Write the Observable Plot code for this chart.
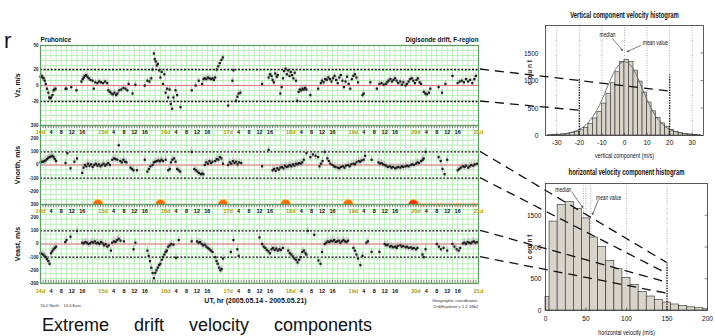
<!DOCTYPE html>
<html><head><meta charset="utf-8">
<script src="https://cdn.jsdelivr.net/npm/d3@7"></script>
<script src="https://cdn.jsdelivr.net/npm/@observablehq/plot@0.6"></script>
<style>
body{margin:0;background:#fff;}
#root{position:relative;width:715px;height:336px;overflow:hidden;font-family:"Liberation Sans",Arial,sans-serif;background:#fff;}
.cap{position:absolute;left:42px;top:316px;font-size:18px;word-spacing:20px;white-space:nowrap;color:#111;line-height:1;}
.rr{position:absolute;left:4px;top:30px;font-size:22px;color:#111;line-height:1;}
</style></head><body><div id="root"><div class="rr">r</div><div class="cap">Extreme drift velocity components</div></div>
<script>
// ---------- data ----------
const dayLabels = ["14d","15d","16d","17d","18d","19d","20d","21d"];
const hourLabels = ["4","8","12","16"];
const vzTicks = [50, 20, 0, -20];
const vnTicks = [300, 200, 100, 0, -100, -200];
const veTicks = [300, 200, 100, 0, -100, -200, -300];
const vzLimits = [-20, 20];
const vnLimits = [-100, 100];
const veLimits = [-100, 100];
const sunHours = [22, 46, 70, 94, 118, 143];
const nightBand = [143, 168];

const vzData = [[0,11],[0.4,12],[0.8,10],[1.2,9],[1.6,6],[2,2],[2.5,-4],[3,-9],[3.3,-15],[3.7,-16],[4.1,-15],[4.6,-12],[5,-6],[5.4,-5],[5.8,-4],
[9.6,-4],[10,-4],[11.8,-2],[13.8,-6],[15.7,5],[16.2,8],[16.6,10],[17,12],[17.5,13],[18,11],[18.5,9],[19.2,7],[20,6],[20.4,-4],[21,4],[21.8,3],[22.5,5],[23.2,4],[24,3],[24.8,5],[25.6,3],[26,-6],[26.6,-8],[27.2,-10],[27.8,-11],[28.4,-9],[29,-12],[29.5,-10],[30.2,-6],[31,-5],[31.8,-3],[32.6,-4],[33.3,-6],[33.8,2],[35.3,-10],[36.4,1],
[40,0],[41,6],[41.8,5],[42.5,9],[43,20],[43.5,40],[43.8,33],[44.2,30],[44.6,25],[45,27],[45.5,19],[46,10],[46.5,17],[47,2],[47.5,14],[48,-9],[48.6,-4],[49,-15],[49.5,-5],[50,-23],[50.5,-29],[51,-15],[51.8,-6],[52.4,-12],[53.7,-27],
[58,-6],[59.5,0],[60.7,6],[62,2],[62.5,8],[63,9],[63.6,8],[64.2,10],[64.8,9],[65.4,8],[66,9],[66.5,7],[67,10],[67.6,20],[68.2,24],[68.8,28],[69.4,32],[70,35],[72,-25],[73.6,6],[74,19],[75,-19],[75.5,-14],[76,-10],[76.7,-9],
[85,2],[87.5,10],[88,14],[88.6,12],[89,7],[89.5,4],[90,15],[90.6,11],[91,13],[92,-10],[92.5,-2],[93,9],[93.4,18],[94,21],[94.5,14],[95,19],[95.5,12],[96,17],[96.5,13],[97,9],[97.5,16],[98,6],[98.5,-19],[99,-8],[99.5,-5],[100,-6],[100.5,-4],[101,-5],[101.5,-3],[102,-5],[103.5,-12],[106.5,-4],[107.5,3],[108,6],[108.6,4],[109.2,8],[109.8,7],[110.4,10],[111,8],[111.6,5],[112.2,9],[112.8,12],[113.4,7],[114,3],[114.6,10],[115.2,13],[115.8,6],[116.4,-2],[117,5],[117.6,11],[118.2,2],[118.8,-4],[119.4,8],[120,12],[120.6,14],[121.2,10],[121.8,4],[123.5,-12],[124,-10],[126.5,4],[129,-4],[130,2],[130.8,3],[131.6,1],[132.4,2],[133,4],[133.5,6],[134.2,8],[134.8,5],[135.4,7],[136,9],[136.6,6],[137.2,3],[138,5],[138.6,1],[139.2,4],[140,0],[140.6,2],[141.2,5],[141.8,8],[142.4,9],[143,6],[143.6,3],[144.2,7],[144.8,9],[145.4,4],[146,2],[147,-8],[147.6,-10],[148.2,-11],[149,-9],[149.5,-4],[152.7,-2],[154,-9],[155.3,2],[158,12],[160,3],[160.8,5],[161.6,6],[162.4,4],[163.2,8],[164,5],[164.8,7],[165.6,3],[166.4,8],[167,12]];

const vnData = [[0,20],[0.5,24],[1,25],[1.5,30],[2,35],[2.5,45],[3,55],[3.5,60],[4,65],[4.5,70],[5,60],[5.5,45],[6,30],
[9.6,15],[10.3,90],[11.5,-25],[13,25],[14,50],[16,-60],[16.5,-20],[17,0],[17.6,-10],[18.2,10],[18.8,-5],[19.4,5],[20,-15],[20.6,0],[21.2,10],[21.8,-5],[22.4,5],[23,-10],[23.6,0],[24.2,10],[24.8,-5],[25.4,5],[26,15],[26.6,0],[27.5,40],[28.2,50],[28.8,45],[29.5,40],[30,150],[30.6,30],[31.2,20],[31.8,40],[32.4,25],[33,20],[34.5,-20],[35.1,-30],[35.7,-40],[37,-40],
[40,40],[41,-50],[41.6,-30],[42.2,-10],[43,0],[43.5,20],[44,25],[44.6,30],[45.2,35],[45.8,28],[46.4,40],[47,30],[48,40],[49,-40],[49.6,-30],[50,20],[50.6,40],[51.2,50],[51.8,25],[52.4,-30],[53,-40],[53.6,-50],
[58,100],[59,-30],[59.6,-40],[60.2,-50],[60.8,-60],[61.5,-70],[62,-65],[62.5,-70],[63,0],[63.6,20],[64.2,10],[64.8,30],[65.4,15],[66,25],[67,30],[67.6,45],[68.2,40],[68.8,60],[69.4,50],[70,10],[72,0],[72.6,20],[73.2,10],[73.8,30],[74.4,15],[75,25],[75.6,5],[76.2,20],[77,15],
[85,-10],[87.5,115],[89,-40],[89.6,-30],[90.2,-45],[90.8,-25],[91.4,-35],[92,-20],[92.6,-15],[93.2,-25],[93.8,-5],[94.4,-15],[95,-10],[95.6,0],[96.2,-10],[96.8,5],[97.4,-5],[98,10],[98.6,5],[99.2,15],[99.8,10],[100.4,20],[101,40],[102,90],[103.5,60],[104.5,80],[105.5,70],[106.5,60],[107,-10],[107.6,10],[108.2,30],[109,100],[110,50],[110.6,30],[111.2,10],[112,0],[112.6,-10],[113.2,-15],[114,-20],[114.6,-25],[115.2,-15],[116,-10],[116.6,-20],[117.2,-5],[118,0],[118.6,-10],[119.2,5],[120,10],[120.6,5],[121.2,20],[122,30],[122.6,25],[123.2,35],[124,40],[124.5,70],[127,40],[129.6,20],[130.2,10],[130.8,15],[131.4,5],[132,0],[132.6,-5],[133.2,-15],[134,-10],[134.6,-20],[135.2,-15],[136,-25],[136.6,-20],[137.2,-15],[138,-20],[138.6,-10],[139.2,-15],[140,-10],[140.6,-5],[141.2,-10],[142,0],[142.6,5],[143.2,0],[144,10],[144.6,20],[145.2,15],[146,30],[146.6,40],[147,50],[147.7,100],[152.7,60],[153.5,30],[154.2,-30],[155,-70],[156,40],[160,-40],[160.6,-30],[161.2,-20],[162,-10],[162.6,-15],[163.2,-5],[164,-20],[164.6,-10],[165.2,0],[166,-5],[166.6,5],[167.5,10]];

const veData = [[0,-70],[0.5,-75],[1,-80],[1.5,-90],[2,-100],[2.5,-115],[3,-130],[3.5,-150],[4,-70],[4.5,-55],[5,-40],[5.5,-30],[6,-20],
[9.5,15],[10,30],[11.5,55],[14,100],[16,10],[16.6,5],[17.2,15],[17.8,10],[18.4,0],[19,5],[19.6,15],[20.2,10],[20.8,20],[21.4,5],[22,10],[22.6,0],[23.2,15],[23.8,5],[24.4,-10],[25,0],[25.6,-20],[26.2,-10],[27,-50],[27.5,10],[28.2,20],[28.8,15],[29.4,30],[30,40],[30.7,25],[32,20],[35.7,-40],[36.4,10],
[41,-50],[41.5,-90],[42,-130],[42.5,-180],[43,-220],[43.5,-260],[44,-220],[44.5,-200],[45,-180],[45.5,-160],[46,-150],[46.5,-120],[47,-100],[47.5,-80],[48,-60],[48.5,-50],[49,-20],[49.6,-10],[50.2,0],[51,-5],[52,-105],[53,30],
[58,20],[60,20],[60.6,10],[61.2,15],[61.8,0],[62.4,-10],[63,-5],[63.6,-20],[64.2,-30],[64.8,-40],[65.4,-50],[66,-60],[67,-100],[67.5,-130],[68,-150],[68.5,-180],[69,-200],[69.5,-190],[70,-110],[73,-60],[74,30],[75.5,-40],[76,-90],
[84,50],[85,0],[85.6,-20],[86.2,-30],[86.8,-45],[87.4,-55],[88,-70],[88.6,-40],[89.2,-30],[89.8,-45],[90.4,-35],[91,-50],[91.6,-40],[92.2,-45],[93,-30],[95,-50],[95.6,-70],[96.2,-80],[96.8,-95],[97.4,-110],[98,-120],[98.6,-140],[99.2,-120],[99.8,-100],[100.4,-60],[101,-50],[101.6,-70],[102,-80],[102.5,100],[105,70],[106.6,-125],[107.4,-150],[108,-60],[109,0],[109.6,10],[110.2,20],[110.8,15],[111.4,25],[112,20],[112.6,30],[113.2,15],[113.8,20],[114.4,25],[115,10],[115.6,20],[116.2,30],[116.8,20],[117.4,15],[118,25],[120,-30],[120.6,-50],[121.2,-80],[121.8,-110],[122.7,-160],[123.5,-90],[125,10],[125.6,20],[127,-60],[130,-60],[132,0],[132.6,-10],[133.2,-5],[134,-20],[134.6,-15],[135.2,-25],[136,-20],[136.6,-30],[137,-15],[138,-10],[138.6,-20],[139.2,-15],[140,-25],[140.6,-20],[141.2,-30],[142,-25],[142.6,-35],[143.2,-30],[144,-40],[144.6,-30],[146.5,-80],[147,-100],[147.7,-40],[152,0],[152.8,-20],[153.6,-40],[154.6,-30],[156,-50],[158,0],[158.8,-20],[159.6,-40],[160.4,-50],[161,-30],[162,5],[162.6,10],[163.2,0],[163.8,15],[164.4,10],[165,5],[165.6,15],[166.2,20],[166.8,10],[167.5,15]];

const vBinEdges = [-34,-32,-30,-28,-26,-24,-22,-20,-18,-16,-14,-12,-10,-8,-6,-4,-2,0,2,4,6,8,10,12,14,16,18,20,22,24,26,28,30,32,34];
const vCounts = [5,8,12,20,30,45,65,95,140,210,310,430,580,760,950,1150,1340,1370,1340,1180,980,780,600,440,320,220,150,100,68,45,30,18,10,5];
const vCurve = [[-34,5],[-28,25],[-24,55],[-20,110],[-16,240],[-12,480],[-8,840],[-4,1200],[0,1340],[4,1200],[8,840],[12,480],[16,240],[20,110],[24,55],[28,25],[34,5]];
const vXTicks = [-30,-20,-10,0,10,20,30];
const vLimitLines = [{x:-20, top:1030},{x:20, top:1100}];
const vNotes = [{text:"median", x:-7.5, y:1836, x1:-5.3, y1:1764, x2:-0.9, y2:1545},
                {text:"mean value", x:13.7, y:1690, x1:7.1, y1:1636, x2:1.3, y2:1527}];

const hBinEdges = [0,5,15,25,35,45,55,65,75,85,95,105,115,125,135,145,155,165,175,185,195,200];
const hCounts = [210,1400,1660,1710,1600,1450,1150,1000,780,650,510,400,290,220,165,125,95,70,50,35,20];
const hXTicks = [0,50,100,150,200];
const hGrid = [47,50,56,100,150];
const hLimitLines = [{x:150, top:750}];
const hNotes = [{text:"median", x:22, y:1905, x1:33, y1:1858, x2:46, y2:1622},
                {text:"mean value", x:78, y:1780, x1:65, y1:1732, x2:58, y2:1512}];
const histYTicks = [0,500,1000,1500];

const connectors = [
  {src:"vz", v:20, dst:"vh", x:20, count:800},
  {src:"vz", v:-20, dst:"vh", x:-20, count:450},
  {src:"vn", v:100, dst:"hh", x:150, count:750},
  {src:"vn", v:-100, dst:"hh", x:150, count:580},
  {src:"ve", v:100, dst:"hh", x:150, count:440},
  {src:"ve", v:-100, dst:"hh", x:150, count:265}
];

// ---------- layout helpers ----------
const root = document.getElementById("root");
const plots = {};
function place(name, el, left, top) {
  el.style.position = "absolute"; el.style.left = left + "px"; el.style.top = top + "px";
  root.appendChild(el); plots[name] = {el, left, top}; return el;
}
const GRID = "#a8eea8";
const OLIVE = "#b09c00";
const gridHours = d3.range(0, 169, 2);
const tickHours = d3.range(0, 169, 1);
const axisTicks = [];
dayLabels.forEach((d, i) => {
  axisTicks.push({h: i * 24, label: d, day: true});
  if (i < dayLabels.length - 1) hourLabels.forEach(hl => axisTicks.push({h: i * 24 + (+hl), label: hl, day: false}));
});
const leftFont = '"Liberation Sans", Arial, sans-serif';
const narrowFont = '"Liberation Sans Narrow", "Arial Narrow", "Liberation Sans", Arial, sans-serif';

function hourLabelMark(anchor, dy) {
  return Plot.text(axisTicks, {x: "h", text: "label", frameAnchor: anchor, dy, fontSize: 5.5, fontWeight: "bold",
    fill: d => d.day ? OLIVE : "#111", textAnchor: "middle", lineAnchor: "middle"});
}

function panel(cfg) {
  const [lo, hi] = cfg.domain;
  const span = hi - lo;
  const rows = cfg.data.map(([h, v]) => ({h, v}));
  return Plot.plot({
    width: 480, height: cfg.height,
    marginLeft: 40, marginRight: 2, marginTop: cfg.mt, marginBottom: cfg.mb,
    x: {domain: [0, 168], axis: null},
    y: {domain: cfg.domain, axis: null},
    style: {background: "transparent", overflow: "visible", fontFamily: leftFont},
    marks: [
      Plot.ruleX(gridHours, {stroke: GRID, strokeWidth: 0.8}),
      Plot.ruleY(d3.range(17).map(i => lo + i * span / 16), {stroke: GRID, strokeWidth: 0.8}),
      ...(cfg.topTicks ? [Plot.ruleX(tickHours, {y1: hi, y2: hi - span * 0.04, stroke: "#333", strokeWidth: 0.6})] : []),
      ...(cfg.bottomTicks ? [Plot.ruleX(tickHours, {y1: lo, y2: lo + span * 0.04, stroke: "#333", strokeWidth: 0.6})] : []),
      Plot.ruleY([0], {stroke: "#ee6f80", strokeWidth: 1}),
      Plot.ruleY(cfg.limits, {stroke: "#111", strokeWidth: 1.3, strokeDasharray: "2,1.6"}),
      Plot.ruleX(rows, {x: "h", y1: d => d.v - cfg.err, y2: d => d.v + cfg.err, stroke: "#a8a8a8", strokeWidth: 0.7}),
      Plot.dot(rows, {x: "h", y: "v", symbol: "square", r: 1.25, fill: "#1c1c1c"}),
      ...(cfg.extra || []),
      Plot.frame({stroke: "#5f9a5f", strokeWidth: 1.2}),
      Plot.text(cfg.ticks, {x: 0, y: d => d, text: d => String(d), textAnchor: "end", dx: -2, fontSize: 4.6, fontWeight: "bold", fill: "#222"}),
      Plot.text([cfg.label], {frameAnchor: "left", dx: -23, rotate: -90, textAnchor: "middle", lineAnchor: "middle", fontSize: 7, fontWeight: "bold", fill: "#111"}),
      ...(cfg.labels || [])
    ]
  });
}

// ---------- left panels ----------
place("vz", panel({
  data: vzData, domain: [-50, 50], ticks: vzTicks, limits: vzLimits, err: 4, label: "Vz, m/s",
  height: 100, mt: 15, mb: 5,
  labels: [
    Plot.text(["Pruhonice"], {frameAnchor: "top-left", dy: -4, textAnchor: "start", lineAnchor: "bottom", fontSize: 6.3, fontWeight: "bold", fill: "#111"}),
    Plot.text(["Digisonde drift, F-region"], {frameAnchor: "top-right", dy: -4, textAnchor: "end", lineAnchor: "bottom", fontSize: 6.3, fontWeight: "bold", fill: "#111"})
  ]
}), 0, 30);

const sunRows = sunHours.map((h, i) => ({h, last: i === sunHours.length - 1}));
place("vn", panel({
  data: vnData, domain: [-300, 300], ticks: vnTicks, limits: vnLimits, err: 28, label: "Vnorth, m/s",
  height: 100, mt: 10, mb: 11, topTicks: true,
  extra: [
    Plot.ruleY([-300], {x1: nightBand[0], x2: nightBand[1], stroke: "#ffb27a", strokeWidth: 3.5, strokeDasharray: "1,0.8"}),
    Plot.dot(sunRows, {x: "h", y: -300, r: 5, fill: d => d.last ? "#ff2a10" : "#ff6a10", stroke: "#ffc830", strokeWidth: 0.9, clip: true})
  ],
  labels: [hourLabelMark("top", 7)]
}), 0, 115);

place("ve", panel({
  data: veData, domain: [-300, 300], ticks: veTicks, limits: veLimits, err: 28, label: "Veast, m/s",
  height: 134, mt: 10, mb: 45, topTicks: true, bottomTicks: true,
  labels: [
    hourLabelMark("top", 7),
    hourLabelMark("bottom", 8),
    Plot.text(["UT, hr (2005.05.14 - 2005.05.21)"], {frameAnchor: "bottom", dy: 17, dx: -4, lineAnchor: "middle", fontSize: 7, fontWeight: "bold", fill: "#111"}),
    Plot.text(["50.0 North    14.6 East"], {frameAnchor: "bottom-left", dy: 22, dx: 0, textAnchor: "start", lineAnchor: "middle", fontSize: 4, fill: "#333"}),
    Plot.text(["Geographic coordinates"], {frameAnchor: "bottom-right", dy: 17, dx: -1, textAnchor: "end", lineAnchor: "middle", fontSize: 4.3, fill: "#333"}),
    Plot.text(["DriftExplorer v 1.2.18b2"], {frameAnchor: "bottom-right", dy: 23, dx: 0, textAnchor: "end", lineAnchor: "middle", fontSize: 4.3, fill: "#333"})
  ]
}), 0, 194);

// ---------- histograms ----------
function histogram(cfg) {
  const bins = cfg.counts.map((c, i) => ({x0: cfg.edges[i], x1: cfg.edges[i + 1], c}));
  const [xa, xb] = cfg.xdomain;
  return Plot.plot({
    width: 235, height: cfg.height,
    marginLeft: 65, marginRight: cfg.mr, marginTop: cfg.mt, marginBottom: cfg.mb,
    x: {domain: cfg.xdomain, axis: null},
    y: {domain: [0, 2000], axis: null},
    style: {background: "transparent", overflow: "visible", fontFamily: narrowFont},
    marks: [
      Plot.ruleX(cfg.grid, {stroke: "#8a8a8a", strokeDasharray: "1,1.5", strokeWidth: 0.7}),
      Plot.rect(bins, {x1: "x0", x2: "x1", y1: 0, y2: "c", fill: "#d8d4ca", stroke: "#2c2c2c", strokeWidth: 0.6}),
      ...(cfg.curve ? [Plot.line(cfg.curve, {x: d => d[0], y: d => d[1], stroke: "#555", strokeWidth: 0.8, curve: "natural"})] : []),
      Plot.ruleX(cfg.limits, {x: "x", y1: 0, y2: "top", stroke: "#222", strokeWidth: 1.4, strokeDasharray: "1.4,1.2"}),
      Plot.frame({stroke: "#333", strokeWidth: 0.8}),
      Plot.ruleX(cfg.xticks, {x: d => d, y1: 0, y2: 45, stroke: "#333", strokeWidth: 0.6}),
      Plot.ruleY(histYTicks, {y: d => d, x1: xb, x2: xb - (xb - xa) * 0.015, stroke: "#333", strokeWidth: 0.6}),
      Plot.text(cfg.xticks, {x: d => d, text: d => String(d), frameAnchor: "bottom", dy: cfg.xtdy, lineAnchor: "middle", fontSize: 8, fill: "#111", className: "c85"}),
      Plot.text(histYTicks, {x: xa, y: d => d, text: d => String(d), textAnchor: "end", dx: cfg.ytdx, lineAnchor: "middle", fontSize: 8, fill: "#111", className: "c85"}),
      Plot.text(["c o u n t"], {frameAnchor: "left", dx: -16, dy: cfg.countDy, rotate: -90, textAnchor: "middle", lineAnchor: "middle", fontSize: 6.5, fontWeight: "bold", fill: "#222"}),
      Plot.text([cfg.xlabel], {frameAnchor: "bottom", dy: cfg.xldy, lineAnchor: "middle", fontSize: 7.5, fill: "#111", className: "c70"}),
      Plot.text([cfg.title], {frameAnchor: "top", dy: cfg.tdy, lineAnchor: "middle", fontSize: 9, fontWeight: "bold", fill: "#111", className: "c66"}),
      Plot.arrow(cfg.notes, {x1: "x1", y1: "y1", x2: "x2", y2: "y2", stroke: "#222", strokeWidth: 0.6, headLength: 4}),
      Plot.text(cfg.notes, {x: "x", y: "y", text: "text", fontSize: 6.5, fill: "#111", lineAnchor: "middle", className: "c75"})
    ]
  });
}

place("vh", histogram({
  edges: vBinEdges, counts: vCounts, curve: vCurve, xdomain: [-35, 35], xticks: vXTicks, grid: vXTicks,
  limits: vLimitLines, notes: vNotes, height: 160, mr: 12, mt: 25, mb: 25, xtdy: 7, ytdx: -7, countDy: -8,
  xlabel: "vertical component (m/s)", xldy: 20, title: "Vertical component velocity histogram", tdy: -10
}), 480, 0);

place("hh", histogram({
  edges: hBinEdges, counts: hCounts, xdomain: [0, 200], xticks: hXTicks, grid: hGrid,
  limits: hLimitLines, notes: hNotes, height: 176, mr: 8, mt: 23, mb: 26, xtdy: 8, ytdx: -4, countDy: 0,
  xlabel: "horizontal velocity (m/s)", xldy: 22, title: "horizontal velocity component histogram", tdy: -11
}), 480, 160);

// condense the histogram lettering (narrow-font look) with a horizontal scale about each text's anchor
const squeeze = {c85: 0.82, c70: 0.72, c66: 0.66, c75: 0.75};
for (const name of ["vh", "hh"]) {
  for (const [cls, f] of Object.entries(squeeze)) {
    plots[name].el.querySelectorAll("g." + cls + " text").forEach(t => {
      let tr = t.getAttribute("transform");
      if (!tr) {
        const x = +(t.getAttribute("x") || 0), y = +(t.getAttribute("y") || 0);
        t.removeAttribute("x"); t.removeAttribute("y");
        tr = `translate(${x},${y})`;
      }
      t.setAttribute("transform", `${tr} scale(${f},1)`);
    });
  }
}

// ---------- connector dashes (positions from the plots' own scales) ----------
const overlay = d3.create("svg").attr("width", 715).attr("height", 336)
  .style("position", "absolute").style("left", "0px").style("top", "0px").style("pointer-events", "none");
for (const c of connectors) {
  const s = plots[c.src], d = plots[c.dst];
  const x1 = s.left + s.el.scale("x").apply(168);
  const y1 = s.top + s.el.scale("y").apply(c.v);
  const x2 = d.left + d.el.scale("x").apply(c.x);
  const y2 = d.top + d.el.scale("y").apply(c.count);
  overlay.append("line").attr("x1", x1 + 2).attr("y1", y1).attr("x2", x2).attr("y2", y2)
    .attr("stroke", "#111").attr("stroke-width", 1.3).attr("stroke-dasharray", "9,6");
}
root.appendChild(overlay.node());
</script></body></html>
